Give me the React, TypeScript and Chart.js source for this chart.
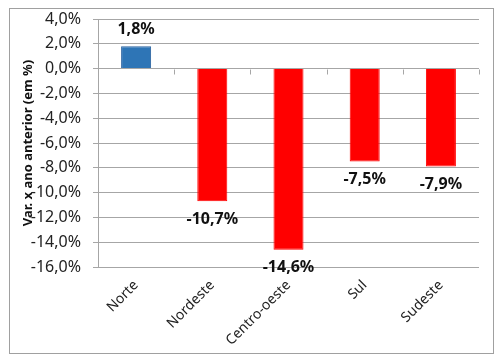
import React, { useEffect, useRef } from "react";
import { Chart, registerables } from "chart.js";

Chart.register(...registerables);

const categories = ["Norte", "Nordeste", "Centro-oeste", "Sul", "Sudeste"];
const values = [1.8, -10.7, -14.6, -7.5, -7.9];
const barColors = ["#2E75B6", "#FF0000", "#FF0000", "#FF0000", "#FF0000"];
const barBorders = ["#2A62A0", "#FF0000", "#FF0000", "#FF0000", "#FF0000"];
const yTitle = "Var. x ano anterior (em %)";
const yMin = -16;
const yMax = 4;
const yStep = 2;

const fmt = (v: number) => v.toFixed(1).replace(".", ",") + "%";

const FONT = "'Noto Sans', 'DejaVu Sans', sans-serif";

const valueLabels = {
  id: "valueLabels",
  afterDatasetsDraw(chart: any) {
    const ctx = chart.ctx;
    const meta = chart.getDatasetMeta(0);
    ctx.save();
    ctx.font = `bold 16px ${FONT}`;
    ctx.fillStyle = "#111111";
    ctx.textAlign = "center";
    ctx.textBaseline = "middle";
    meta.data.forEach((bar: any, i: number) => {
      const v = values[i];
      const y = v >= 0 ? bar.y - 17 : bar.y + 18;
      ctx.fillText(fmt(v), bar.x, y);
    });
    ctx.restore();
  },
};

// category-boundary tick marks along the zero line (Excel-style axis crossing)
const zeroAxisTicks = {
  id: "zeroAxisTicks",
  beforeDatasetsDraw(chart: any) {
    const ctx = chart.ctx;
    const xs = chart.scales.x;
    const ys = chart.scales.y;
    const y0 = Math.round(ys.getPixelForValue(0)) + 0.5;
    const n = categories.length;
    const half = (xs.getPixelForValue(1) - xs.getPixelForValue(0)) / 2;
    ctx.save();
    ctx.strokeStyle = "#a6a6a6";
    ctx.lineWidth = 1;
    ctx.beginPath();
    for (let i = 0; i <= n; i++) {
      const x = Math.round(xs.getPixelForValue(0) - half + i * half * 2) + 0.5;
      ctx.moveTo(x, y0);
      ctx.lineTo(x, y0 + 5);
    }
    ctx.stroke();
    ctx.restore();
  },
};

export default function App() {
  const ref = useRef<HTMLCanvasElement | null>(null);

  useEffect(() => {
    if (!ref.current) return;
    Chart.defaults.font.family = FONT;
    const chart = new Chart(ref.current, {
      type: "bar",
      data: {
        labels: categories,
        datasets: [
          {
            data: values,
            backgroundColor: barColors,
            borderColor: barBorders,
            borderWidth: 1,
            categoryPercentage: 1,
            barPercentage: 0.394,
          },
        ],
      },
      options: {
        animation: false,
        responsive: false,
        maintainAspectRatio: false,
        layout: { padding: { top: 10, right: 14, left: 8, bottom: 0 } },
        plugins: {
          legend: { display: false },
          tooltip: { enabled: false },
        },
        scales: {
          x: {
            type: "category",
            position: "bottom",
            grid: { display: false },
            border: { display: false },
            ticks: {
              maxRotation: 45,
              minRotation: 45,
              padding: 2,
              color: "#222222",
              font: { size: 14 },
            },
            afterFit: (s: any) => {
              s.height = 86;
              s.paddingLeft = 0;
              s.paddingRight = 0;
            },
          },
          y: {
            min: yMin,
            max: yMax,
            ticks: {
              stepSize: yStep,
              padding: 12,
              color: "#222222",
              font: { size: 16 },
              callback: (v: any) => fmt(Number(v)),
            },
            grid: { color: "#a6a6a6", tickLength: 5 },
            border: { display: true, color: "#a6a6a6" },
            title: {
              display: true,
              text: yTitle,
              color: "#111111",
              font: { size: 13, weight: "bold" },
              padding: { top: 2, bottom: 0 },
            },
            afterFit: (s: any) => {
              s.width = 80;
              s.paddingTop = 0;
              s.paddingBottom = 0;
            },
          },
        },
      },
      plugins: [zeroAxisTicks, valueLabels],
    });
    return () => chart.destroy();
  }, []);

  return (
    <div
      style={{
        width: 485,
        height: 346,
        boxSizing: "border-box",
        border: "1px solid #a0a0a0",
        background: "#ffffff",
        marginLeft: 1,
      }}
    >
      <canvas ref={ref} width={483} height={344} style={{ display: "block" }} />
    </div>
  );
}
